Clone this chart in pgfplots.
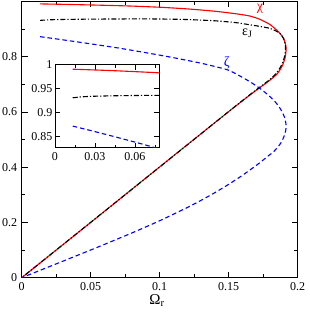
\documentclass[border=0pt]{standalone}
\usepackage{fontspec}
\setmainfont{Liberation Serif}
\usepackage{pgfplots}
\usepackage{pgfplotstable}
\pgfplotsset{compat=1.18}

\pgfplotstableread{
x y
0.0133 0.9906
0.03 0.9890
0.05 0.9868
0.078 0.9830
0.10 0.9785
0.12 0.9725
0.14 0.9640
0.155 0.9550
0.165 0.9470
0.1725 0.9350
0.1799 0.9160
0.186 0.8900
0.1896 0.8670
0.1913 0.8420
0.1916 0.8240
0.1909 0.7960
0.1888 0.7660
0.1852 0.7380
0.1800 0.7150
0.1727 0.6880
0.1654 0.6610
0.15 0.6010
0.12 0.4810
0.10 0.4010
0.05 0.2000
0 0
}\chidata

\pgfplotstableread{
x y
0.0133 0.9310
0.02 0.9330
0.03 0.9343
0.05 0.9355
0.078 0.9362
0.10 0.9360
0.12 0.9340
0.14 0.9295
0.155 0.9230
0.1654 0.9150
0.1740 0.9080
0.1799 0.9020
0.1845 0.8920
0.1875 0.8820
0.1898 0.8650
0.1910 0.8450
0.1912 0.8240
0.1903 0.7970
0.1882 0.7680
0.1846 0.7400
0.1796 0.7160
0.1724 0.6890
0.1652 0.6615
0.15 0.6010
0.10 0.4005
0 0
}\epsdata

\pgfplotstableread{
x y
0.0133 0.8720
0.03 0.8605
0.05 0.8460
0.07 0.8310
0.09 0.8140
0.11 0.7960
0.13 0.7760
0.1400 0.7640
0.1503 0.7500
0.1616 0.7200
0.1682 0.7000
0.1739 0.6800
0.1788 0.6600
0.1830 0.6400
0.1863 0.6200
0.1887 0.6000
0.1905 0.5800
0.1914 0.5600
0.1916 0.5450
0.1912 0.5300
0.1900 0.5100
0.1881 0.4900
0.1855 0.4720
0.1818 0.4520
0.1800 0.4459
0.1750 0.4257
0.1700 0.4064
0.1600 0.3706
0.1500 0.3379
0.1400 0.3078
0.1300 0.2799
0.1200 0.2539
0.1000 0.2061
0.0800 0.1622
0.0600 0.1206
0.0400 0.0801
0.0200 0.0400
0 0
}\zetadata

\begin{document}
\begin{tikzpicture}
\pgfplotsset{
  every axis/.append style={
    scale only axis,
    axis line style={line width=0.8pt},
    tick style={line width=0.7pt, black},
    major tick length=6pt,
    minor tick length=3.5pt,
    tick label style={font=\fontsize{12}{14}\selectfont},
    /pgf/number format/assume math mode=true,
    scaled ticks=false,
  },
  chi/.style={red, line width=1.1pt, smooth, tension=0.4},
  eps/.style={black, line width=1.1pt, smooth, tension=0.4, dash pattern=on 5pt off 2pt on 1.2pt off 2pt},
  zet/.style={blue, line width=1.1pt, smooth, tension=0.4, dash pattern=on 4.5pt off 3pt},
}
\begin{axis}[
  at={(0pt,0pt)}, anchor=south west,
  width=276pt, height=276.4pt,
  xmin=0, xmax=0.2, ymin=0, ymax=1,
  xtick={0,0.05,0.1,0.15,0.2},
  xticklabels={0,0.05,0.1,0.15,0.2},
  minor xtick={0.025,0.075,0.125,0.175},
  ytick={0,0.2,0.4,0.6,0.8},
  yticklabels={0,0.2,0.4,0.6,0.8},
  minor ytick={0.1,0.3,0.5,0.7,0.9},
  xticklabel style={yshift=-1pt},
  yticklabel style={xshift=-1pt},
  xlabel={\fontsize{15}{17}\selectfont Ω\textsubscript{r}},
  xlabel style={at={(axis description cs:0.49,0)}, anchor=north, yshift=-13pt},
]
\addplot[chi] table[x=x,y=y] {\chidata};
\addplot[eps] table[x=x,y=y] {\epsdata};
\addplot[zet] table[x=x,y=y] {\zetadata};
\node[red, font=\fontsize{14}{16}\selectfont] at (axis cs:0.1727,0.972) {χ};
\node[black, font=\fontsize{14}{16}\selectfont] at (axis cs:0.1635,0.885) {ε\textsubscript{J}};
\node[blue, font=\fontsize{14}{16}\selectfont] at (axis cs:0.1486,0.776) {ζ};
\end{axis}
\begin{axis}[
  at={(33.3pt,130pt)}, anchor=south west,
  width=104pt, height=83pt,
  xmin=0, xmax=0.078, ymin=0.827, ymax=1,
  xtick={0,0.03,0.06},
  xticklabels={0,0.03,0.06},
  minor xtick={0.015,0.045,0.075},
  ytick={0.85,0.9,0.95,1},
  yticklabels={0.85,0.9,0.95,1},
  major tick length=5pt,
  minor tick length=3pt,
  axis background/.style={fill=white},
  xticklabel style={yshift=-1pt},
  yticklabel style={xshift=1pt},
]
\addplot[chi] table[x=x,y=y] {\chidata};
\addplot[eps] table[x=x,y=y] {\epsdata};
\addplot[zet] table[x=x,y=y] {\zetadata};
\end{axis}
\pgfresetboundingbox
\useasboundingbox (-21.7pt,-36.3pt) rectangle (287.3pt,277.7pt);
\end{tikzpicture}
\end{document}
